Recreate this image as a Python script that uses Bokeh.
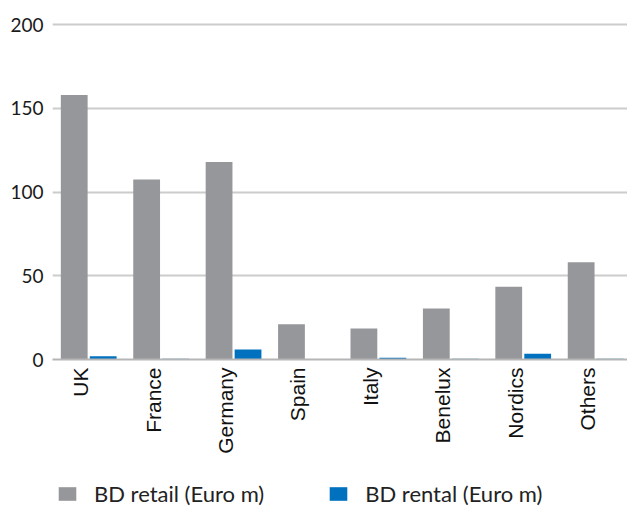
from bokeh.plotting import figure
from bokeh.layouts import column
from bokeh.models import ColumnDataSource, Range1d, FixedTicker, Legend, LegendItem
from bokeh.embed import file_html
from bokeh.resources import INLINE
from bokeh.transform import dodge

categories = ["UK", "France", "Germany", "Spain", "Italy", "Benelux", "Nordics", "Others"]
retail = [158, 107.5, 118, 21, 18.5, 30.5, 43.5, 58]
rental = [2, 0.5, 6, 0.3, 1, 0.5, 3.5, 0.5]
y_ticks = [0, 50, 100, 150, 200]
series_names = ["BD retail (Euro m)", "BD rental (Euro m)"]

GRAY = "#96979a"
BLUE = "#0071bf"
LABEL_SHIFT = -0.11  # category labels sit slightly left of the group centre

idx = list(range(len(categories)))
src = ColumnDataSource(dict(x=idx, retail=retail, rental=rental))

p = figure(width=627, height=470, output_backend="svg", toolbar_location=None,
           x_range=Range1d(-0.5, 7.44), y_range=Range1d(0, 206),
           min_border_left=52, min_border_right=0, min_border_top=14, min_border_bottom=111)
p.outline_line_color = None
p.background_fill_color = "white"
p.border_fill_color = "white"

p.vbar(x=dodge("x", -0.2), top="retail", width=0.37, source=src, color=GRAY, line_color=None)
p.vbar(x=dodge("x", 0.2), top="rental", width=0.37, source=src, color=BLUE, line_color=None)

p.xgrid.grid_line_color = None
p.ygrid.grid_line_color = "#cccccc"
p.ygrid.grid_line_width = 2
p.ygrid.ticker = FixedTicker(ticks=y_ticks)

p.yaxis.ticker = FixedTicker(ticks=y_ticks)
p.yaxis.axis_line_color = None
p.yaxis.major_tick_line_color = None
p.yaxis.major_tick_out = 0
p.yaxis.major_tick_in = 0
p.yaxis.minor_tick_line_color = None
p.yaxis.major_label_text_font = "Lato"
p.yaxis.major_label_text_font_size = "19px"
p.yaxis.major_label_text_color = "#1a1a1a"
p.yaxis.major_label_standoff = 9

tick_pos = [i + LABEL_SHIFT for i in idx]
p.xaxis.ticker = FixedTicker(ticks=tick_pos)
p.xaxis.major_label_overrides = {t: c for t, c in zip(tick_pos, categories)}
p.xaxis.major_label_orientation = 1.5707963
p.xaxis.axis_line_color = "#b5b5b5"
p.xaxis.axis_line_width = 2
p.xaxis.major_tick_line_color = None
p.xaxis.major_tick_out = 0
p.xaxis.major_tick_in = 0
p.xaxis.minor_tick_line_color = None
p.xaxis.major_label_text_font = "Liberation Sans"
p.xaxis.major_label_text_font_size = "21px"
p.xaxis.major_label_text_color = "#111111"
p.xaxis.major_label_standoff = 8

# legend strip below the chart (its renderers are hidden; only the legend shows)
lg = figure(width=627, height=37, output_backend="svg", toolbar_location=None,
            x_axis_type=None, y_axis_type=None, x_range=Range1d(100, 101), y_range=Range1d(0, 1),
            min_border=0)
lg.outline_line_color = None
lg.xgrid.grid_line_color = None
lg.ygrid.grid_line_color = None
l1 = lg.vbar(x=dodge("x", -0.2), top="retail", width=0.37, source=src, color=GRAY, line_color=None)
l2 = lg.vbar(x=dodge("x", 0.2), top="rental", width=0.37, source=src, color=BLUE, line_color=None)
l1.visible = False
l2.visible = False

legend = Legend(items=[LegendItem(label=series_names[0], renderers=[l1]),
                       LegendItem(label=series_names[1], renderers=[l2])],
                orientation="horizontal", location=(4, 0))
legend.glyph_width = 22
legend.glyph_height = 17
legend.label_standoff = 16
legend.spacing = 63
legend.padding = 0
legend.margin = 0
legend.border_line_color = None
legend.background_fill_alpha = 0
legend.inactive_fill_alpha = 0
legend.label_text_font = "Lato"
legend.label_text_font_size = "22px"
legend.label_text_color = "#222222"
lg.add_layout(legend, "center")

layout = column(p, lg, spacing=0)
open("out.html", "w").write(file_html(layout, INLINE))
